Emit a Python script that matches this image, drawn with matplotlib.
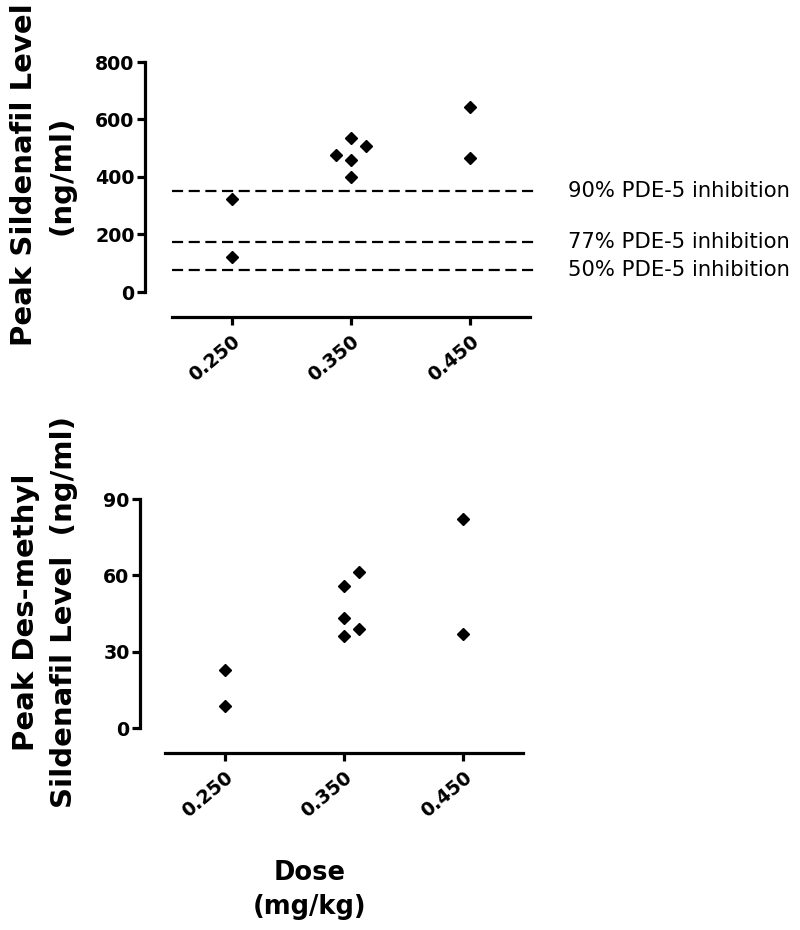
import numpy as np
import matplotlib
matplotlib.use("Agg")
import matplotlib.pyplot as plt

# ---------------- data ----------------
# top panel : peak sildenafil (ng/ml)
dose_top = [0.25, 0.25, 0.3375, 0.35, 0.35, 0.35, 0.3625, 0.45, 0.45]
sild_top = [322, 123, 478, 535, 458, 400, 509, 645, 465]

# PDE-5 inhibition thresholds
thresh_vals = [350, 175, 78]
thresh_labels = ["90% PDE-5 inhibition", "77% PDE-5 inhibition", "50% PDE-5 inhibition"]

# bottom panel : peak des-methyl sildenafil (ng/ml)
dose_bot = [0.25, 0.25, 0.35, 0.35, 0.35, 0.3625, 0.3625, 0.45, 0.45]
desm_bot = [22.7, 8.6, 55.7, 43.1, 36.1, 61.2, 38.8, 82.2, 37.0]

dose_ticks = [0.25, 0.35, 0.45]
dose_ticklabels = ["0.250", "0.350", "0.450"]
top_yticks = [0, 200, 400, 600, 800]
bot_yticks = [0, 30, 60, 90]

W, H = 800, 930
fig = plt.figure(figsize=(W / 100, H / 100), dpi=100)


def px_axes(x0, x1, ytop, ybot):
    return fig.add_axes([x0 / W, 1 - ybot / H, (x1 - x0) / W, (ybot - ytop) / H])


def style(ax, yticks, off_left, off_bot):
    for s in ["top", "right"]:
        ax.spines[s].set_visible(False)
    ax.spines["left"].set_position(("outward", off_left * 0.72))
    ax.spines["bottom"].set_position(("outward", off_bot * 0.72))
    for s in ["left", "bottom"]:
        ax.spines[s].set_linewidth(2.3)
    ax.set_xlim(0.2, 0.5)
    ax.set_xticks(dose_ticks)
    ax.set_xticklabels(dose_ticklabels, rotation=40, ha="right",
                       rotation_mode="anchor", fontsize=13.7, fontweight="bold")
    ax.set_yticks(yticks)
    ax.set_yticklabels([str(v) for v in yticks], fontsize=13.7, fontweight="bold")
    ax.tick_params(axis="both", width=2.3, length=5.5, pad=2)
    ax.tick_params(axis="x", pad=5)


# top
ax1 = px_axes(172, 530, 62, 292)
ax1.set_ylim(0, 800)
style(ax1, top_yticks, 27, 25)
for v, lab in zip(thresh_vals, thresh_labels):
    ax1.axhline(v, xmin=0, xmax=1.02, color="black", lw=1.6,
                linestyle=(0, (5, 2.5)), clip_on=False)
    ax1.text(1.106, v, lab, transform=ax1.get_yaxis_transform(),
             ha="left", va="center", fontsize=15.2)
ax1.plot(dose_top, sild_top, linestyle="none", marker="D", ms=6,
         color="black", clip_on=False)

# bottom
ax2 = px_axes(165, 523, 499, 728)
ax2.set_ylim(0, 90)
style(ax2, bot_yticks, 25, 25)
ax2.plot(dose_bot, desm_bot, linestyle="none", marker="D", ms=6,
         color="black", clip_on=False)

# axis titles
fig.text(43 / W, 1 - 175 / H, "Peak Sildenafil Level\n(ng/ml)", rotation=90,
         ha="center", va="center", multialignment="center",
         fontsize=21, fontweight="bold", linespacing=1.45)
fig.text(45 / W, 1 - 612 / H, "Peak Des-methyl\nSildenafil Level  (ng/ml)", rotation=90,
         ha="center", va="center", multialignment="center",
         fontsize=21, fontweight="bold", linespacing=1.45)
fig.text(310 / W, 1 - 890 / H, "Dose\n(mg/kg)", ha="center", va="center",
         multialignment="center", fontsize=18.5, fontweight="bold", linespacing=1.4)

fig.savefig("out.png", dpi=100)
